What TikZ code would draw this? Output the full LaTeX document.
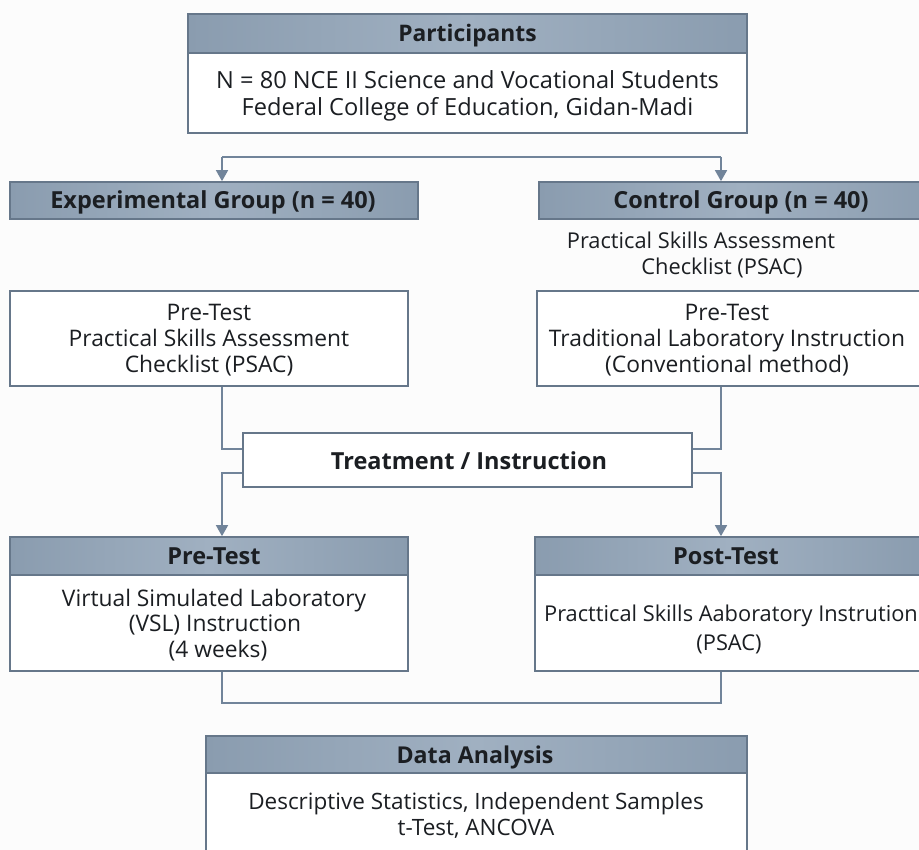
\documentclass[tikz,border=0pt]{standalone}
\usepackage{fontspec}
\setmainfont{Open Sans}
\usetikzlibrary{arrows.meta}
\definecolor{hdr}{HTML}{8A9CAF}
\definecolor{hdrlight}{HTML}{A0B0C1}
\definecolor{bord}{HTML}{66778A}
\definecolor{conncol}{HTML}{71849A}
\definecolor{txt}{HTML}{1B1E22}
\definecolor{bg}{HTML}{FCFCFC}
\newcommand{\fsz}[1]{\fontsize{#1}{27}\selectfont}
\begin{document}
\begin{tikzpicture}[x=1pt,y=-1pt,
  box/.style={draw=bord, line width=1.7pt, fill=white, inner sep=0pt, rectangle},
  hbar/.style={draw=bord, line width=1.7pt, left color=hdr, right color=hdr, middle color=hdrlight, inner sep=0pt, rectangle},
  lbl/.style={text=txt, font=\fsz{22.8}, inner sep=0pt, anchor=base},
  ttl/.style={text=txt, font=\bfseries\fsz{23.5}, inner sep=0pt, anchor=base},
  conn/.style={draw=conncol, line width=1.7pt},
  arr/.style={conn, -{Triangle[width=12pt,length=11pt]}}]
\useasboundingbox (0,0) rectangle (919,850);
\clip (0,0) rectangle (919,850);
\fill[bg] (0,0) rectangle (919,850);

% Participants
\node[box, minimum width=559pt, minimum height=119pt] (part) at (467.5,73.5) {};
\node[hbar, minimum width=559pt, minimum height=39pt] (parth) at (467.5,33.5) {};
\node[ttl, font=\bfseries\fsz{22.8}] (partt) at (467.5,41.5) {Participants};
\node[lbl, font=\fsz{23.6}] (partl1) at (467.5,88.5) {N = 80 NCE II Science and Vocational Students};
\node[lbl, font=\fsz{23.6}] (partl2) at (467.5,115.5) {Federal College of Education, Gidan-Madi};

% Group headers
\node[hbar, minimum width=408pt, minimum height=37pt] (exph) at (214,200.5) {};
\node[ttl] (expt) at (213,208.5) {Experimental Group (n = 40)};
\node[hbar, minimum width=404pt, minimum height=37pt] (ctrh) at (741,200.5) {};
\node[ttl] (ctrt) at (741,208.5) {Control Group (n = 40)};
\node[lbl, font=\fsz{21.8}] (psa1) at (701,249) {Practical Skills Assessment};
\node[lbl, font=\fsz{21.8}] (psa2) at (722,275) {Checklist (PSAC)};

% Bracket with arrows
\coordinate (bl) at (222,157);
\coordinate (br) at (721,157);
\draw[conn] (bl) -- (br);
\draw[arr] (bl) -- (bl |- exph.north);
\draw[arr] (br) -- (br |- ctrh.north);

% Pre-test boxes
\node[box, minimum width=398pt, minimum height=95pt] (pre1) at (209,338.5) {};
\node[lbl] (pre1a) at (209,320.5) {Pre-Test};
\node[lbl] (pre1b) at (209,346.5) {Practical Skills Assessment};
\node[lbl] (pre1c) at (209,372.5) {Checklist (PSAC)};
\node[box, minimum width=388pt, minimum height=95pt] (pre2) at (731,338.5) {};
\node[lbl] (pre2a) at (727,320.5) {Pre-Test};
\node[lbl] (pre2b) at (727,346.5) {Traditional Laboratory Instruction};
\node[lbl] (pre2c) at (727,372.5) {(Conventional method)};

% Treatment
\node[box, minimum width=449pt, minimum height=54pt] (treat) at (467.5,460) {};
\node[ttl] (treatt) at (469,469.5) {Treatment / Instruction};

% Lower boxes
\node[box, minimum width=398pt, minimum height=134pt] (low1) at (209,604) {};
\node[hbar, minimum width=398pt, minimum height=38pt] (low1h) at (209,556) {};
\node[ttl] (low1t) at (214,564.5) {Pre-Test};
\node[lbl] (low1a) at (214,606.5) {Virtual Simulated Laboratory};
\node[lbl] (low1b) at (215,631.5) {(VSL) Instruction};
\node[lbl] (low1c) at (218,657.5) {(4 weeks)};
\node[box, minimum width=390pt, minimum height=134pt] (low2) at (730,604) {};
\node[hbar, minimum width=390pt, minimum height=38pt] (low2h) at (730,556) {};
\node[ttl] (low2t) at (726,564.5) {Post-Test};
\node[lbl, font=\fsz{21.8}] (low2a) at (731,621.5) {Practtical Skills Aaboratory Instrution};
\node[lbl, font=\fsz{21.8}] (low2b) at (729,650.5) {(PSAC)};

% Connectors through treatment
\draw[conn] (pre1.south -| bl) |- ([yshift=11pt]treat.west);
\draw[conn] (pre2.south -| br) |- ([yshift=11pt]treat.east);
\draw[arr] ([yshift=-13pt]treat.west) -| (bl |- low1h.north);
\draw[arr] ([yshift=-13pt]treat.east) -| (br |- low2h.north);

% Bottom bracket
\draw[conn] (low1.south -| bl) -- ++(0,31) -| (low2.south -| br);

% Data analysis
\node[box, minimum width=541pt, minimum height=134pt] (data) at (476.5,803) {};
\node[hbar, minimum width=541pt, minimum height=37pt] (datah) at (476.5,754.5) {};
\node[ttl, font=\bfseries\fsz{23.2}] (datat) at (475,763) {Data Analysis};
\node[lbl, font=\fsz{22.5}] (datal1) at (476,809.5) {Descriptive Statistics, Independent Samples};
\node[lbl, font=\fsz{22.5}] (datal2) at (476,835.5) {t-Test, ANCOVA};
\end{tikzpicture}
\end{document}
